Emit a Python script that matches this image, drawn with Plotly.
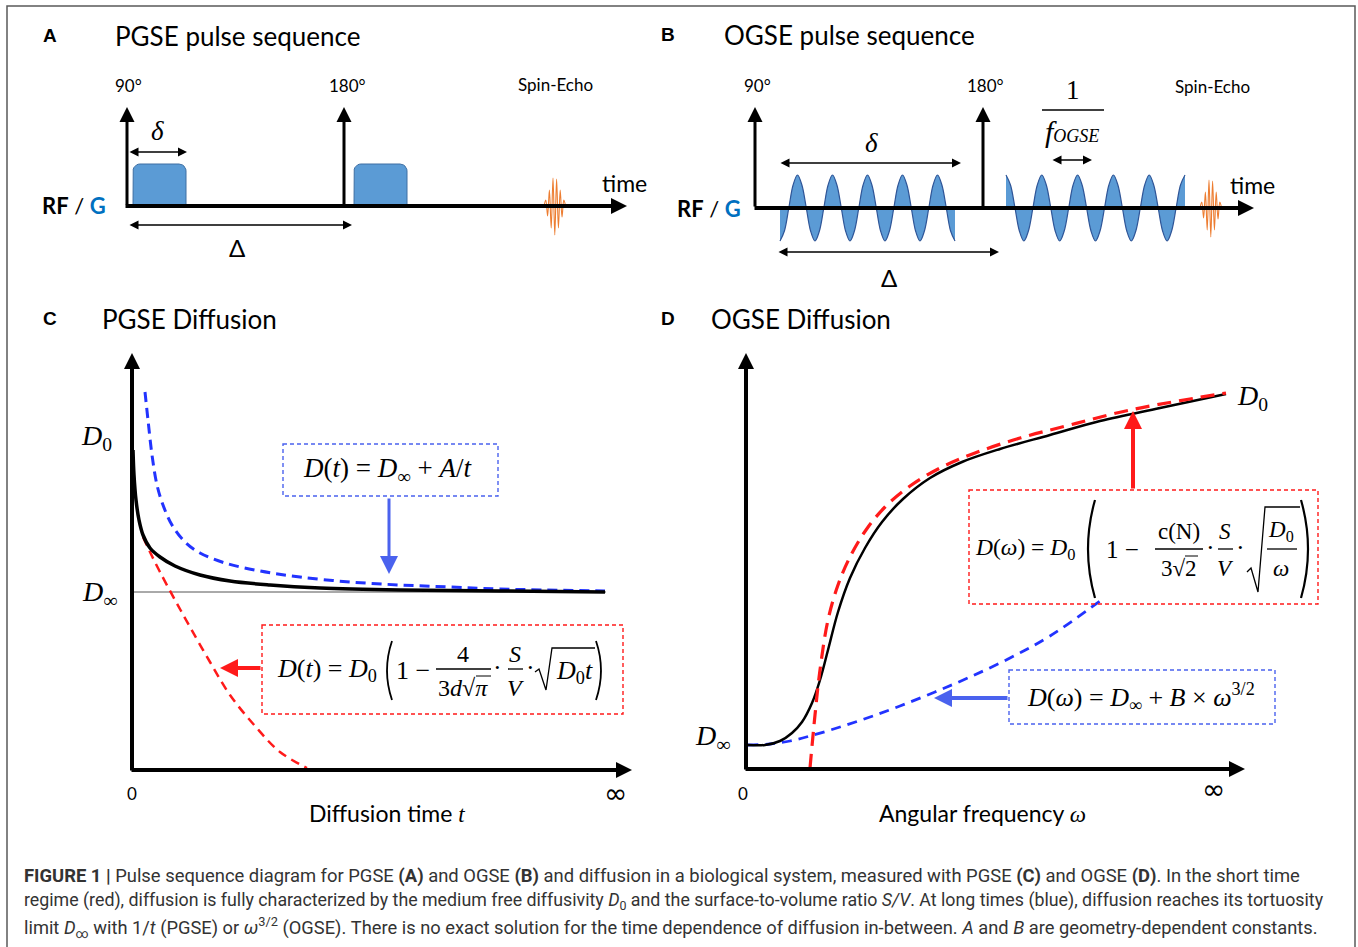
import math
import plotly.graph_objects as go

W, H = 1358, 947

# ======================= DATA (arbitrary units) =======================
# Panel A - PGSE: time measured from the 90° pulse, gradient amplitude above the baseline
pgse_rf_t = [0, 217]            # 90°, 180° RF pulses
pgse_rf_height = 99
pgse_grad_t0 = [6, 227]         # start of the two gradient lobes
pgse_grad_width = 53            # delta
pgse_grad_amp = 42
pgse_echo_t = [417, 418.8, 420.6, 422.4, 424.2, 426, 427.8, 429.6, 431.4, 433.2, 435, 436.8, 438.6]
pgse_echo_s = [0, 6, -10, 16, -22, 28, -29, 27, -22, 16, -11, 6, 0]

# Panel B - OGSE
ogse_rf_t = [0, 228]
ogse_rf_height = 101
ogse_w1_t = [25, 29.4, 33.8, 38.1, 42.5, 46.9, 51.3, 55.6, 60, 64.4, 68.8, 73.1, 77.5, 81.9,
             86.3, 90.6, 95, 99.4, 103.8, 108.1, 112.5, 116.9, 121.3, 125.6, 130, 134.4, 138.8,
             143.1, 147.5, 151.9, 156.3, 160.6, 165, 169.4, 173.8, 178.1, 182.5, 186.9, 191.3,
             195.6, 200]
ogse_w1_g = [-33, -23, 0, 23, 33, 23, 0, -23, -33, -23, 0, 23, 33, 23, 0, -23, -33, -23, 0, 23,
             33, 23, 0, -23, -33, -23, 0, 23, 33, 23, 0, -23, -33, -23, 0, 23, 33, 23, 0, -23, -33]
ogse_w2_t = [251, 255.5, 260, 264.4, 268.9, 273.4, 277.9, 282.3, 286.8, 291.3, 295.8, 300.2,
             304.7, 309.2, 313.7, 318.1, 322.6, 327.1, 331.6, 336, 340.5, 345, 349.5, 353.9,
             358.4, 362.9, 367.4, 371.8, 376.3, 380.8, 385.3, 389.7, 394.2, 398.7, 403.2, 407.6,
             412.1, 416.6, 421.1, 425.5, 430]
ogse_w2_g = [33, 23, 0, -23, -33, -23, 0, 23, 33, 23, 0, -23, -33, -23, 0, 23, 33, 23, 0, -23,
             -33, -23, 0, 23, 33, 23, 0, -23, -33, -23, 0, 23, 33, 23, 0, -23, -33, -23, 0, 23, 33]
ogse_echo_t = [445, 446.8, 448.6, 450.4, 452.2, 454, 455.8, 457.6, 459.4, 461.2, 463, 464.8, 466.6]
ogse_echo_s = [0, 6, -10, 16, -22, 28, -29, 27, -22, 16, -11, 6, 0]

# Panel C - PGSE diffusion D(t)
c_black_t = [1, 2, 4, 7, 11, 18, 28, 43, 68, 98, 138, 188, 268, 368, 473]
c_black_d = [320, 295, 270, 250, 235, 222, 213, 204, 195, 189, 185, 182, 180, 179, 178]
c_blue_t = [13, 16, 20, 25, 31, 40, 53, 68, 93, 128, 168, 218, 268, 318, 368, 473]
c_blue_d = [378, 350, 315, 285, 265, 245, 228, 217, 207, 199, 193, 188, 185, 183, 181, 179]
c_red_t = [11, 18, 28, 43, 58, 78, 98, 123, 148, 175]
c_red_d = [233, 218, 198, 170, 143, 108, 75, 44, 18, 2]
c_dinf_t = [0, 474]
c_dinf_d = [178, 178]

# Panel D - OGSE diffusion D(omega)
d_black_w = [2, 19, 34, 46, 56, 66, 74, 82, 92, 104, 119, 136, 157, 184, 216, 254, 304, 354, 414, 480]
d_black_d = [24, 24, 28, 36, 47, 66, 89, 119, 157, 191, 221, 247, 270, 291, 307, 320, 334, 348, 361, 375]
d_red_w = [64, 69, 74, 82, 92, 104, 120, 139, 164, 194, 229, 274, 324, 384, 480]
d_red_d = [1, 54, 99, 149, 184, 212, 239, 262, 283, 301, 316, 331, 344, 359, 376]
d_blue_w = [2, 24, 44, 64, 94, 124, 154, 189, 224, 264, 304, 354]
d_blue_d = [24, 25, 28, 33, 42, 52, 63, 77, 92, 111, 133, 168]

# ======================= STYLE =======================
SANS = "Lato"
SERIF = "Liberation Serif"
BLUE_FILL = "#5B9BD5"
BLUE_EDGE = "#3E6FA3"
ORANGE = "#ED7D31"
RED = "#FF1A1A"
BLUE = "#2233FF"
BLUE_ARROW = "#4A62EE"

annotations = []
shapes = []


def px(x):
    return x / W


def py(y):
    return 1 - y / H


def text(x, y, s, size=18, family=SANS, color="black", xanchor="center", yanchor="middle"):
    annotations.append(dict(x=px(x), y=py(y), xref="paper", yref="paper", text=s,
                            showarrow=False, font=dict(size=size, family=family, color=color),
                            xanchor=xanchor, yanchor=yanchor))


def arrow(x1, y1, x2, y2, color="black", width=1.5, size=1.2, both=False, head=2):
    annotations.append(dict(x=px(x2), y=py(y2), xref="paper", yref="paper",
                            ax=x1 - x2, ay=y1 - y2, axref="pixel", ayref="pixel",
                            text="", showarrow=True, arrowhead=head, arrowsize=size,
                            arrowwidth=width, arrowcolor=color,
                            arrowside="end+start" if both else "end",
                            startarrowhead=head, startarrowsize=size,
                            standoff=0, startstandoff=0))


def line(x0, y0, x1, y1, color="black", width=1.3, dash="solid"):
    shapes.append(dict(type="line", xref="paper", yref="paper", x0=px(x0), y0=py(y0),
                       x1=px(x1), y1=py(y1), line=dict(color=color, width=width, dash=dash)))


def rect(x0, y0, x1, y1, color, width=1.4, dash="4px,3px"):
    shapes.append(dict(type="rect", xref="paper", yref="paper", x0=px(x0), y0=py(y0),
                       x1=px(x1), y1=py(y1), line=dict(color=color, width=width, dash=dash)))


def path(points, color="black", width=1.3):
    d = "M " + " L ".join(f"{px(a):.5f},{py(b):.5f}" for a, b in points)
    shapes.append(dict(type="path", xref="paper", yref="paper", path=d,
                       line=dict(color=color, width=width)))


def paren(x, top, bot, left=True, bulge=9, width=1.8):
    mid = (top + bot) / 2
    if left:
        d = f"M {px(x + bulge):.5f},{py(top):.5f} Q {px(x - bulge):.5f},{py(mid):.5f} {px(x + bulge):.5f},{py(bot):.5f}"
    else:
        d = f"M {px(x - bulge):.5f},{py(top):.5f} Q {px(x + bulge):.5f},{py(mid):.5f} {px(x - bulge):.5f},{py(bot):.5f}"
    shapes.append(dict(type="path", xref="paper", yref="paper", path=d,
                       line=dict(color="black", width=width)))


def rounded_pulse(t0, w, h, r, n=6):
    xs, ys = [t0], [0]
    for i in range(n + 1):
        a = math.pi - (math.pi / 2) * i / n
        xs.append(t0 + r + r * math.cos(a)); ys.append(h - r + r * math.sin(a))
    for i in range(n + 1):
        a = math.pi / 2 - (math.pi / 2) * i / n
        xs.append(t0 + w - r + r * math.cos(a)); ys.append(h - r + r * math.sin(a))
    xs += [t0 + w, t0]
    ys += [0, 0]
    return xs, ys


fig = go.Figure()

# ---------------- Panel A traces ----------------
for t0 in pgse_grad_t0:
    xs, ys = rounded_pulse(t0, pgse_grad_width, pgse_grad_amp, 7)
    fig.add_trace(go.Scatter(x=xs, y=ys, mode="lines", fill="toself", fillcolor=BLUE_FILL,
                             line=dict(color=BLUE_EDGE, width=1), xaxis="x", yaxis="y",
                             hoverinfo="skip"))
fig.add_trace(go.Scatter(x=pgse_echo_t, y=pgse_echo_s, mode="lines",
                         line=dict(color=ORANGE, width=1.1, shape="spline"),
                         xaxis="x", yaxis="y", hoverinfo="skip"))

# ---------------- Panel B traces ----------------
for tt, gg in ((ogse_w1_t, ogse_w1_g), (ogse_w2_t, ogse_w2_g)):
    fig.add_trace(go.Scatter(x=tt, y=gg, mode="lines", fill="tozeroy", fillcolor=BLUE_FILL,
                             line=dict(color="#2F5597", width=1.2, shape="spline"),
                             xaxis="x2", yaxis="y2", hoverinfo="skip"))
fig.add_trace(go.Scatter(x=ogse_echo_t, y=ogse_echo_s, mode="lines",
                         line=dict(color=ORANGE, width=1.1, shape="spline"),
                         xaxis="x2", yaxis="y2", hoverinfo="skip"))

# ---------------- Panel C traces ----------------
fig.add_trace(go.Scatter(x=c_dinf_t, y=c_dinf_d, mode="lines", line=dict(color="#555", width=1),
                         xaxis="x3", yaxis="y3", hoverinfo="skip"))
fig.add_trace(go.Scatter(x=c_red_t, y=c_red_d, mode="lines",
                         line=dict(color=RED, width=2.5, dash="9px,6px", shape="spline"),
                         xaxis="x3", yaxis="y3", hoverinfo="skip"))
fig.add_trace(go.Scatter(x=c_blue_t, y=c_blue_d, mode="lines",
                         line=dict(color=BLUE, width=3, dash="10px,6px", shape="spline"),
                         xaxis="x3", yaxis="y3", hoverinfo="skip"))
fig.add_trace(go.Scatter(x=c_black_t, y=c_black_d, mode="lines",
                         line=dict(color="black", width=3.5, shape="spline"),
                         xaxis="x3", yaxis="y3", hoverinfo="skip"))

# ---------------- Panel D traces ----------------
fig.add_trace(go.Scatter(x=d_blue_w, y=d_blue_d, mode="lines",
                         line=dict(color=BLUE, width=2.8, dash="10px,7px", shape="spline"),
                         xaxis="x4", yaxis="y4", hoverinfo="skip"))
fig.add_trace(go.Scatter(x=d_black_w, y=d_black_d, mode="lines",
                         line=dict(color="black", width=2.5, shape="spline"),
                         xaxis="x4", yaxis="y4", hoverinfo="skip"))
fig.add_trace(go.Scatter(x=d_red_w, y=d_red_d, mode="lines",
                         line=dict(color=RED, width=3.2, dash="14px,8px", shape="spline"),
                         xaxis="x4", yaxis="y4", hoverinfo="skip"))

# RF pulses as arrows in data coordinates
for t in pgse_rf_t:
    annotations.append(dict(x=t, y=pgse_rf_height, xref="x", yref="y", ax=t, ay=0,
                            axref="x", ayref="y", text="", showarrow=True, arrowhead=2,
                            arrowsize=1.0, arrowwidth=3, arrowcolor="black", standoff=0))
for t in ogse_rf_t:
    annotations.append(dict(x=t, y=ogse_rf_height, xref="x2", yref="y2", ax=t, ay=0,
                            axref="x2", ayref="y2", text="", showarrow=True, arrowhead=2,
                            arrowsize=1.0, arrowwidth=3, arrowcolor="black", standoff=0))

# ---------------- Panel A decorations ----------------
text(50, 36, "<b>A</b>", 19, "Liberation Sans")
text(113, 36, "PGSE pulse sequence", 26, xanchor="left")
text(128, 85, "90°", 17)
text(347, 85, "180°", 17)
text(555, 84, "Spin-Echo", 17)
arrow(124, 206, 627, 206, width=4, size=0.8)
arrow(128, 152, 187, 152, width=1.5, size=1.2, both=True)
text(157, 131, "<i>δ</i>", 27, SERIF)
arrow(128, 225, 352, 225, width=1.5, size=1.2, both=True)
text(237, 248, "Δ", 24)
text(74, 206, "<b>RF</b> / <b><span style='color:#0070C0'>G</span></b>", 22)
text(624, 183, "time", 23)

# ---------------- Panel B decorations ----------------
text(668, 35, "<b>B</b>", 19, "Liberation Sans")
text(722, 35, "OGSE pulse sequence", 26, xanchor="left")
text(757, 86, "90°", 17)
text(985, 86, "180°", 17)
text(1212, 87, "Spin-Echo", 17)
arrow(753, 208, 1254, 208, width=4, size=0.8)
arrow(779, 163, 961, 163, width=1.5, size=1.2, both=True)
text(871, 143, "<i>δ</i>", 27, SERIF)
arrow(777, 252, 999, 252, width=1.5, size=1.2, both=True)
text(889, 277, "Δ", 24)
text(1073, 90, "1", 27, SERIF)
line(1042, 110, 1104, 110, width=1.5)
text(1072, 131, "<i>f</i><span style='font-size:18px'><i>OGSE</i></span>", 30, SERIF)
arrow(1051, 160, 1092, 160, width=1.5, size=1.2, both=True)
text(709, 208, "<b>RF</b> / <b><span style='color:#0070C0'>G</span></b>", 22)
text(1252, 185, "time", 23)

# ---------------- Panel C decorations ----------------
text(50, 318, "<b>C</b>", 19, "Liberation Sans")
text(100, 319, "PGSE Diffusion", 26, xanchor="left")
arrow(132, 772, 132, 353, width=4, size=0.8)
arrow(130, 770, 632, 770, width=4, size=0.8)
text(132, 793, "0", 17)
text(615, 793, "∞", 28, "DejaVu Sans")
text(387, 813, "Diffusion time <span style='font-family:Liberation Serif'><i>t</i></span>", 23)
text(96, 437, "<i>D</i><sub>0</sub>", 28, SERIF)
text(99, 593, "<i>D</i><sub>∞</sub>", 28, SERIF)
rect(283, 444, 498, 496, BLUE_ARROW)
text(387, 470, "<i>D</i>(<i>t</i>) = <i>D</i><sub>∞</sub> + <i>A</i>/<i>t</i>", 27, SERIF)
arrow(389, 497, 389, 574, color=BLUE_ARROW, width=3, size=1.2)
rect(262, 625, 623, 714, RED)
arrow(262, 668, 220, 668, color=RED, width=4, size=0.9)
# formula D(t) = D0 (1 - 4/(3d sqrt(pi)) * S/V * sqrt(D0 t))
text(379, 670, "<i>D</i>(<i>t</i>) = <i>D</i><sub>0</sub>", 26, SERIF, xanchor="right")
paren(387, 641, 700, left=True, bulge=5)
text(413, 670, "1 −", 26, SERIF)
text(463, 654, "4", 24, SERIF)
line(436, 669, 491, 669)
text(463, 688, "3<i>d</i>√<i>π</i>", 24, SERIF)
line(476, 676, 491, 676, width=1)
text(498, 667, "·", 26, SERIF)
text(515, 654, "<i>S</i>", 24, SERIF)
line(508, 669, 523, 669)
text(515, 688, "<i>V</i>", 24, SERIF)
text(530, 667, "·", 26, SERIF)
path([(535, 672), (539, 669), (546, 690), (552, 648), (595, 648)], width=1.3)
text(574, 672, "<i>D</i><sub>0</sub><i>t</i>", 26, SERIF)
paren(601, 641, 700, left=False, bulge=5)

# ---------------- Panel D decorations ----------------
text(668, 318, "<b>D</b>", 19, "Liberation Sans")
text(709, 319, "OGSE Diffusion", 26, xanchor="left")
arrow(746, 771, 746, 353, width=4, size=0.8)
arrow(744, 769, 1245, 769, width=4, size=0.8)
text(743, 793, "0", 17)
text(1213, 789, "∞", 28, "DejaVu Sans")
text(982, 813, "Angular frequency <span style='font-family:Liberation Serif'><i>ω</i></span>", 23)
text(1252, 398, "<i>D</i><sub>0</sub>", 28, SERIF)
text(712, 737, "<i>D</i><sub>∞</sub>", 28, SERIF)
rect(969, 490, 1318, 604, RED)
arrow(1133, 490, 1133, 411, color=RED, width=4, size=0.9)
rect(1009, 670, 1275, 724, BLUE_ARROW)
arrow(1009, 698, 934, 698, color=BLUE_ARROW, width=4, size=0.9)
text(1141, 697, "<i>D</i>(<i>ω</i>) = <i>D</i><sub>∞</sub> + <i>B</i> × <i>ω</i><sup>3/2</sup>", 26, SERIF)
# formula D(w) = D0 (1 - c(N)/(3 sqrt2) * S/V * sqrt(D0/w))
text(1077, 549, "<i>D</i>(<i>ω</i>) = <i>D</i><sub>0</sub>", 23.5, SERIF, xanchor="right")
paren(1088, 500, 598, left=True, bulge=7, width=2.2)
text(1122, 549, "1 −", 25, SERIF)
text(1179, 531, "c(N)", 23, SERIF)
line(1155, 549, 1203, 549)
text(1179, 568, "3√2", 23, SERIF)
line(1185, 556, 1198, 556, width=1)
text(1210, 547, "·", 26, SERIF)
text(1225, 531, "<i>S</i>", 23, SERIF)
line(1218, 549, 1233, 549)
text(1225, 568, "<i>V</i>", 23, SERIF)
text(1240, 547, "·", 26, SERIF)
path([(1247, 572), (1251, 568), (1258, 592), (1265, 507), (1300, 507)], width=1.3)
text(1281, 531, "<i>D</i><sub>0</sub>", 23, SERIF)
line(1267, 549, 1297, 549)
text(1281, 568, "<i>ω</i>", 23, SERIF)
paren(1308, 500, 598, left=False, bulge=7, width=2.2)

# ---------------- caption ----------------
CAP = "Roboto, Liberation Sans, sans-serif"
cap_lines = [
    "<b>FIGURE 1 |</b> Pulse sequence diagram for PGSE <b>(A)</b> and OGSE <b>(B)</b> and diffusion in a biological system, measured with PGSE <b>(C)</b> and OGSE <b>(D)</b>. In the short time",
    "regime (red), diffusion is fully characterized by the medium free diffusivity <i>D</i><sub>0</sub> and the surface-to-volume ratio <i>S/V</i>. At long times (blue), diffusion reaches its tortuosity",
    "limit <i>D</i><sub>∞</sub> with 1/<i>t</i> (PGSE) or <i>ω</i><sup>3/2</sup> (OGSE). There is no exact solution for the time dependence of diffusion in-between. <i>A</i> and <i>B</i> are geometry-dependent constants.",
]
cap_sizes = [18.4, 17.8, 18.3]
for yy, s, fs in zip([876, 901, 927], cap_lines, cap_sizes):
    text(22, yy, s, fs, CAP, color="#333333", xanchor="left")

# frame
shapes.append(dict(type="rect", xref="paper", yref="paper", x0=px(7), y0=py(960), x1=px(1355),
                   y1=py(6), line=dict(color="#5a5a5a", width=1.5)))


def ax_cfg(dom, rng):
    return dict(domain=dom, range=rng, visible=False, fixedrange=True)


fig.update_layout(
    width=W, height=H, margin=dict(l=0, r=0, t=0, b=0), autosize=False,
    paper_bgcolor="white", plot_bgcolor="white", showlegend=False,
    xaxis=ax_cfg([0, 679 / W], [-127, 552]),
    yaxis=ax_cfg([1 - 290 / H, 1], [-84, 206]),
    xaxis2=ax_cfg([679 / W, 1], [-76, 603]),
    yaxis2=ax_cfg([1 - 290 / H, 1], [-82, 208]),
    xaxis3=ax_cfg([0, 679 / W], [-132, 547]),
    yaxis3=ax_cfg([1 - 845 / H, 1 - 300 / H], [-75, 470]),
    xaxis4=ax_cfg([679 / W, 1], [-67, 612]),
    yaxis4=ax_cfg([1 - 845 / H, 1 - 300 / H], [-76, 469]),
    annotations=annotations, shapes=shapes,
)
fig.update_xaxes(visible=False)
fig.update_yaxes(visible=False)

fig.write_html("out.html", config={"displayModeBar": False})
